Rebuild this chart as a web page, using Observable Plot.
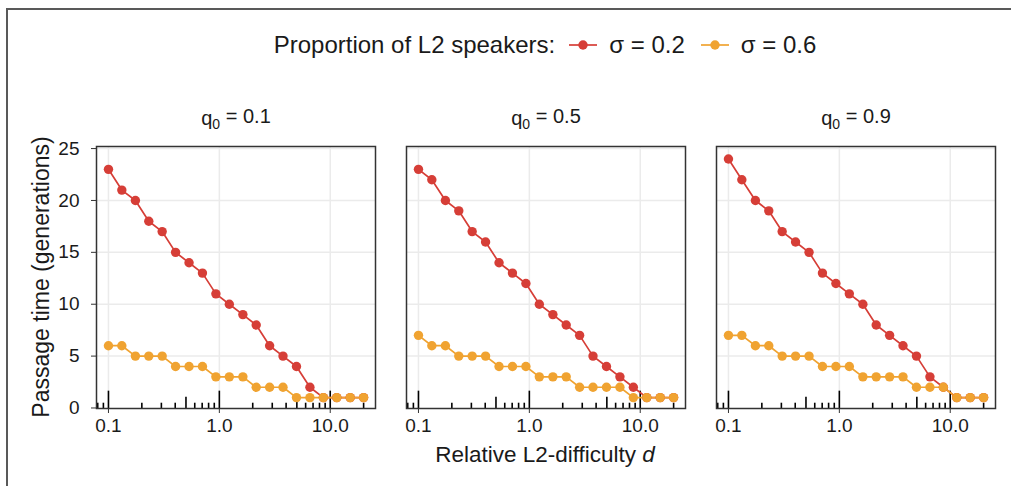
<!DOCTYPE html>
<html><head><meta charset="utf-8">
<script src="https://cdn.jsdelivr.net/npm/d3@7"></script>
<script src="https://cdn.jsdelivr.net/npm/@observablehq/plot@0.6"></script>
<style>
body{margin:0;background:#fff;font-family:"Liberation Sans",Arial,sans-serif;}
#wrap{position:relative;width:1011px;height:486px;overflow:hidden;background:#fff;}
#border{position:absolute;left:6px;top:8px;right:-10px;bottom:-10px;border-top:2px solid #595959;border-left:2px solid #595959;}
#legend{position:absolute;left:95px;width:900px;top:0;height:89px;display:flex;align-items:center;justify-content:center;font-size:24px;color:#1a1a1a;white-space:pre;}
#chart{position:absolute;left:0;top:90px;}
</style></head><body>
<div id="wrap"><div id="border"></div><div id="legend"></div><div id="chart"></div></div>
<script>
// relative L2-difficulty d (x values)
const dValues = [0.1, 0.132, 0.175, 0.231, 0.305, 0.403, 0.533, 0.704, 0.931, 1.23, 1.63, 2.15, 2.84, 3.75, 4.96, 6.56, 8.67, 11.45, 15.14, 20];
const q0Levels = ["0.1", "0.5", "0.9"];
const sigmaLevels = ["0.2", "0.6"];
const seriesColors = ["#d63e37", "#f0a331"];
// passage time (generations)
const sigma02_q01 = [23, 21, 20, 18, 17, 15, 14, 13, 11, 10, 9, 8, 6, 5, 4, 2, 1, 1, 1, 1];
const sigma06_q01 = [6, 6, 5, 5, 5, 4, 4, 4, 3, 3, 3, 2, 2, 2, 1, 1, 1, 1, 1, 1];
const sigma02_q05 = [23, 22, 20, 19, 17, 16, 14, 13, 12, 10, 9, 8, 7, 5, 4, 3, 2, 1, 1, 1];
const sigma06_q05 = [7, 6, 6, 5, 5, 5, 4, 4, 4, 3, 3, 3, 2, 2, 2, 2, 1, 1, 1, 1];
const sigma02_q09 = [24, 22, 20, 19, 17, 16, 15, 13, 12, 11, 10, 8, 7, 6, 5, 3, 2, 1, 1, 1];
const sigma06_q09 = [7, 7, 6, 6, 5, 5, 5, 4, 4, 4, 3, 3, 3, 3, 2, 2, 2, 1, 1, 1];
const xTicks = [0.1, 1, 10];
const yTicks = [0, 5, 10, 15, 20, 25];
const logTickPositions = [0.08, 0.09, 0.1, 0.2, 0.3, 0.4, 0.5, 0.6, 0.7, 0.8, 0.9, 1, 2, 3, 4, 5, 6, 7, 8, 9, 10, 20];

const seriesTable = {
  "0.1": {"0.2": sigma02_q01, "0.6": sigma06_q01},
  "0.5": {"0.2": sigma02_q05, "0.6": sigma06_q05},
  "0.9": {"0.2": sigma02_q09, "0.6": sigma06_q09}
};
const rows = [];
for (const q of q0Levels) for (const s of sigmaLevels)
  seriesTable[q][s].forEach((t, i) => rows.push({q0: q, sigma: s, d: dValues[i], t}));

const yMin = -0.05, yMax = 25.2;
const rug = logTickPositions.map(v => {
  const lg = Math.log10(v);
  const lead = Math.round(v / Math.pow(10, Math.floor(lg + 1e-9)));
  const len = Math.abs(lg - Math.round(lg)) < 1e-9 ? 1.67 : (lead === 5 ? 1.09 : 0.51);
  return {x: v, y2: yMin + len};
});

const plot = Plot.plot({
  width: 1011, height: 396,
  marginLeft: 95, marginRight: 16, marginTop: 56, marginBottom: 78,
  style: {fontFamily: "Liberation Sans, Arial, sans-serif", fontSize: "19px", color: "#1a1a1a", background: "transparent"},
  fx: {domain: q0Levels, paddingInner: 0.1, paddingOuter: 0, label: null},
  x: {type: "log", domain: [0.078, 25.6], label: null},
  y: {domain: [yMin, yMax], label: null},
  color: {domain: sigmaLevels, range: seriesColors},
  marks: [
    Plot.gridX(xTicks, {stroke: "#ebebeb", strokeOpacity: 1, strokeWidth: 1.5}),
    Plot.gridY(yTicks.slice(1), {stroke: "#ebebeb", strokeOpacity: 1, strokeWidth: 1.5}),
    Plot.ruleX(rug, {x: "x", y1: yMin, y2: "y2", stroke: "#000", strokeWidth: 1.6}),
    Plot.line(rows, {x: "d", y: "t", z: "sigma", stroke: "sigma", fx: "q0", strokeWidth: 1.7}),
    Plot.dot(rows, {x: "d", y: "t", fill: "sigma", fx: "q0", r: 4.7}),
    Plot.frame({stroke: "#333", strokeWidth: 1.5}),
    Plot.axisX(xTicks, {tickFormat: d => d.toFixed(1), tickSize: 5, tickPadding: 5, stroke: "#333", fontSize: 19, label: null}),
    Plot.axisY(yTicks, {tickSize: 5, tickPadding: 12, stroke: "#333", fontSize: 19, label: null}),
    Plot.axisFx({anchor: "top", tickSize: 0, tickPadding: 22, fontSize: 19, label: null, tickFormat: d => "q0 = " + d})
  ]
});
document.getElementById("chart").appendChild(plot);

const svg = d3.select(plot);
// facet titles with subscript
svg.selectAll('g[aria-label="fx-axis tick label"] text').each(function() {
  const txt = d3.select(this);
  const val = txt.text().replace("q0 = ", "");
  txt.text(null).attr("font-size", null).style("font-size", "20px");
  txt.append("tspan").text("q");
  txt.append("tspan").style("font-size", "14px").attr("dy", "0.3em").text("0");
  txt.append("tspan").attr("dy", "-0.3em").text(" = " + val);
});
// x axis title
const xt = svg.append("text").attr("x", 545).attr("y", 372).attr("text-anchor", "middle")
  .style("font-size", "22.5px").attr("fill", "#1a1a1a");
xt.append("tspan").text("Relative L2-difficulty ");
xt.append("tspan").attr("font-style", "italic").text("d");
// y axis title
svg.append("text").attr("transform", "translate(49,187) rotate(-90)").attr("text-anchor", "middle")
  .style("font-size", "23px").attr("fill", "#1a1a1a").text("Passage time (generations)");

// legend
const legend = document.getElementById("legend");
const addText = (t, ml) => { const s = document.createElement("span"); s.textContent = t; s.style.marginLeft = ml + "px"; legend.appendChild(s); };
const addSwatch = (c, ml) => {
  const ns = "http://www.w3.org/2000/svg";
  const s = document.createElementNS(ns, "svg");
  s.setAttribute("width", 28); s.setAttribute("height", 16); s.style.marginLeft = ml + "px";
  const l = document.createElementNS(ns, "line");
  l.setAttribute("x1", 0); l.setAttribute("x2", 28); l.setAttribute("y1", 8); l.setAttribute("y2", 8);
  l.setAttribute("stroke", c); l.setAttribute("stroke-width", 1.7);
  const ci = document.createElementNS(ns, "circle");
  ci.setAttribute("cx", 14); ci.setAttribute("cy", 8); ci.setAttribute("r", 4.7); ci.setAttribute("fill", c);
  s.appendChild(l); s.appendChild(ci); legend.appendChild(s);
};
addText("Proportion of L2 speakers:", 0);
sigmaLevels.forEach((s, i) => { addSwatch(seriesColors[i], i === 0 ? 14 : 16); addText("σ = " + s, 12); });
</script>
</body></html>
